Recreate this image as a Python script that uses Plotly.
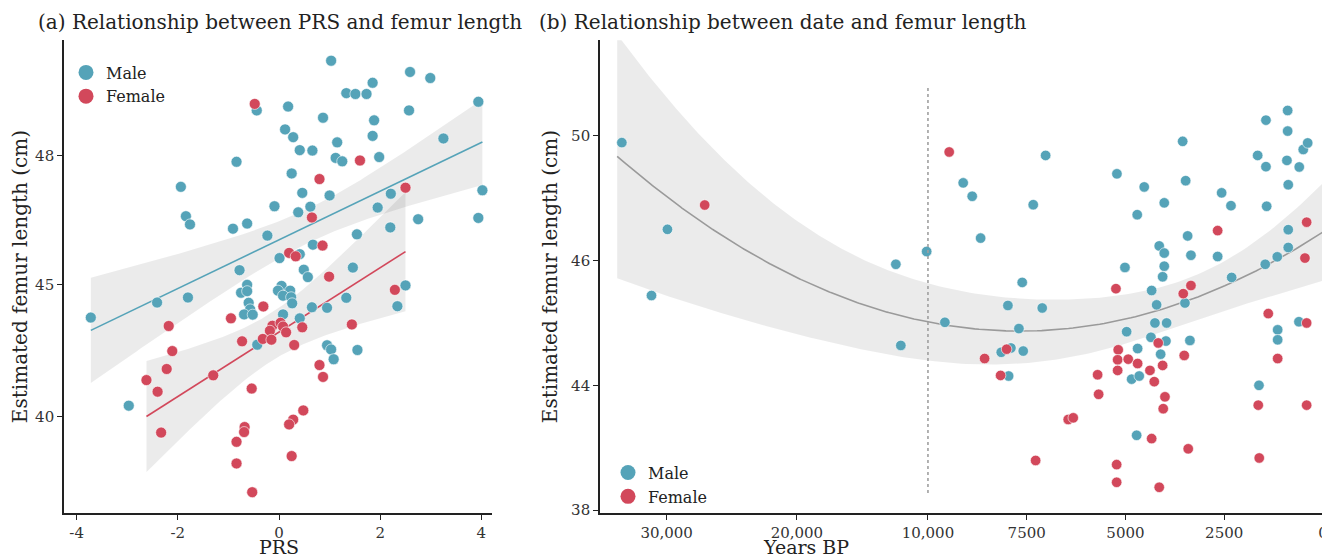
import numpy as np
import plotly.graph_objects as go

# ---------------- Panel (a): PRS vs estimated femur length ----------------
prs_male = [1.03, 2.59, 2.99, 1.85, 1.33, 1.51, 1.73, 3.94, -0.44, 0.18, 2.57, 0.87, 1.88, 0.12,
            0.28, 1.85, 3.25, 1.15, 0.41, 0.66, 1.12, 1.25, 1.98, -0.84, 0.25, -1.94, 0.46, 1.00,
            2.21, 4.02, -0.09, 0.62, 0.38, 1.95, -1.84, -1.76, -0.91, -0.63, 2.20, 2.75, 3.94,
            -0.23, 1.54, 0.67, 0.01, 0.41, -0.78, 0.49, 0.57, 1.46, -1.80, -0.63, -0.75, -0.63,
            0.05, -0.02, 0.22, 0.08, 0.24, 0.26, -0.60, -0.57, -0.69, -0.52, 0.08, 0.41, 0.65,
            0.95, 1.33, 2.50, 2.34, -0.43, 0.95, 1.03, 1.08, 1.55, -3.72, -2.41, -2.97]
femur_male_a = [50.19, 49.93, 49.79, 49.68, 49.44, 49.42, 49.42, 49.24, 49.04, 49.13, 49.04, 48.87,
                48.81, 48.60, 48.42, 48.45, 48.39, 48.30, 48.12, 48.11, 47.94, 47.86, 47.96, 47.85,
                47.58, 47.27, 47.13, 47.07, 47.11, 47.19, 46.82, 46.81, 46.68, 46.79, 46.59, 46.40,
                46.30, 46.42, 46.33, 46.52, 46.55, 46.14, 46.17, 45.93, 45.62, 45.71, 45.34, 45.35,
                45.18, 45.40, 44.52, 45.00, 44.70, 44.76, 44.96, 44.78, 44.78, 44.59, 44.53, 44.30,
                44.32, 44.07, 43.88, 43.87, 43.88, 43.73, 44.15, 44.13, 44.51, 44.98, 44.19, 42.73,
                42.71, 42.55, 42.18, 42.53, 43.76, 44.33, 40.42]
prs_female = [-0.48, 1.60, 0.80, 2.50, 0.65, 0.86, 0.20, 0.33, 0.99, 2.29, -0.31, -0.95, -0.13, 0.03,
              -0.18, 0.08, 0.14, 0.46, 1.44, -0.73, -0.32, -0.15, 0.30, -1.30, -0.54, 0.80, 0.87,
              0.48, 0.28, 0.20, -2.18, -2.11, -2.62, -2.22, -2.40, -2.33, -0.84, -0.84, -0.68,
              -0.69, -0.53, 0.25]
femur_female_a = [49.19, 47.88, 47.45, 47.25, 46.56, 45.91, 45.74, 45.66, 45.19, 44.81, 44.18, 43.73,
                  43.45, 43.56, 43.26, 43.42, 43.20, 43.39, 43.50, 42.86, 42.95, 42.92, 42.72, 41.57,
                  41.07, 41.96, 41.51, 40.24, 39.89, 39.71, 43.44, 42.49, 41.39, 41.81, 40.95, 39.40,
                  39.05, 38.23, 39.61, 39.42, 37.14, 38.51]

# ---------------- Panel (b): date (years BP) vs estimated femur length ----------------
years_male = [33440, 29940, 31165, 12450, 12070, 10100, 9108, 8880, 8667, 7335, 7021, 5216, 4525,
              4702, 4018, 3552, 3476, 4145, 4018, 4018, 4059, 5013, 3426, 3342, 2565, 2329, 2666,
              2312, 1653, 1443, 1443, 1425, 894, 894, 912, 879, 879, 879, 1157, 1461, 499, 387, 600,
              7614, 4337, 4211, 3494, 9571, 7976, 7107, 7697, 4970, 4254, 3958, 4355, 3975, 3368,
              7900, 8145, 7588, 4692, 4109, 7958, 4844, 4651, 1620, 608, 1147, 1147, 4717]
femur_male_b = [49.78, 47.00, 45.44, 45.94, 44.64, 46.29, 48.49, 48.06, 46.72, 47.79, 49.37, 48.78,
                48.36, 47.47, 47.85, 49.82, 48.56, 46.47, 46.24, 45.91, 45.74, 45.89, 46.79, 46.17,
                48.17, 47.76, 46.13, 45.73, 49.37, 50.50, 49.01, 47.74, 50.81, 50.15, 49.21, 48.43,
                46.99, 46.42, 46.12, 45.94, 49.56, 49.77, 49.00, 45.65, 45.52, 45.29, 45.32, 45.01,
                45.28, 45.24, 44.91, 44.86, 45.00, 45.00, 44.77, 44.71, 44.72, 44.60, 44.53, 44.55,
                44.59, 44.50, 44.15, 44.10, 44.15, 44.00, 45.02, 44.89, 44.73, 41.60]
years_female = [27080, 9462, 2666, 413, 456, 5241, 3342, 3537, 1385, 413, 8009, 8566, 5183, 4170,
                5198, 4930, 4692, 4380, 4059, 3512, 1147, 8161, 5705, 5198, 4271, 5679, 4000, 4044,
                6449, 6322, 1638, 413, 4337, 3411, 7274, 5223, 1613, 5223, 4145]
femur_female_b = [47.78, 49.48, 46.96, 47.23, 46.08, 45.55, 45.60, 45.47, 45.15, 45.00, 44.58, 44.43,
                  44.57, 44.68, 44.41, 44.42, 44.35, 44.24, 44.32, 44.48, 44.43, 44.16, 44.17, 44.24,
                  44.06, 43.57, 43.45, 42.88, 42.36, 42.44, 43.05, 43.05, 41.44, 40.95, 40.39, 40.19,
                  40.51, 39.34, 39.10]

# ---------------- Axis tick labels (values) ----------------
xa_ticks = [-4, -2, 0, 2, 4]
ya_ticks = [40, 45, 48]
yb_ticks = [38, 44, 46, 50]
xb_ticks = [0, 2500, 5000, 7500, 10000, 20000, 30000]
xb_ticktext = ["0", "2500", "5000", "7500", "10,000", "20,000", "30,000"]
years_limits = (0, 33800)   # span of the smoother in panel (b)
cutoff_year = 10000         # dashed reference line
ci_z_a = None               # default 95% t-interval for panel (a)
ci_z_b = 2.5                # wider interval used for the smoother of panel (b)

# ---------------- Scale definitions (piece-wise axes of the original) ----------------
YA_POS = [0.0, 1.0, 1.982]
YB_POS = [0.0, 1.0, 2.0, 3.0]
XB_POS = [0, 1, 2, 3, 4, 5.327, 6.646]


def scale(values, ticks, pos):
    v = np.asarray(values, float)
    t = np.asarray(ticks, float)
    p = np.asarray(pos, float)
    out = np.interp(v, t, p)
    lo, hi = v < t[0], v > t[-1]
    out[lo] = p[0] + (v[lo] - t[0]) * (p[1] - p[0]) / (t[1] - t[0])
    out[hi] = p[-1] + (v[hi] - t[-1]) * (p[-1] - p[-2]) / (t[-1] - t[-2])
    return out


def poly_ci(x, y, grid, deg, z=None):
    x = np.asarray(x, float)
    y = np.asarray(y, float)
    X = np.vander(x, deg + 1)
    beta, *_ = np.linalg.lstsq(X, y, rcond=None)
    resid = y - X @ beta
    n, k = X.shape
    s2 = resid @ resid / (n - k)
    cov = s2 * np.linalg.inv(X.T @ X)
    G = np.vander(np.asarray(grid, float), deg + 1)
    fit = G @ beta
    se = np.sqrt(np.einsum("ij,jk,ik->i", G, cov, G))
    tval = z if z is not None else 1.96 + 2.4 / (n - k)
    return fit, fit - tval * se, fit + tval * se


BLUE = "#55A3B8"
RED = "#D2485B"
BAND = "rgba(0,0,0,0.08)"
FONT = "DejaVu Serif"
TXT = "#222222"

# page geometry: 8px body margin, slight vertical squeeze of the capture
OFF = 8
KY = 557 / 564
W, H = 1330 - OFF, 556


def px(xp):
    return (xp - OFF) / W


def py(yp):
    return 1 - (yp / KY - OFF) / H


fig = go.Figure()

# ---- Panel (a) ----
groups_a = [("Male", prs_male, femur_male_a, BLUE), ("Female", prs_female, femur_female_a, RED)]
fits_a = []
for name, xs, ys, col in groups_a:
    yd = scale(ys, ya_ticks, YA_POS)
    grid = np.linspace(min(xs), max(xs), 120)
    fits_a.append((grid, *poly_ci(xs, yd, grid, 1, ci_z_a), col))
for grid, fit, lo, hi, col in fits_a:
    fig.add_trace(go.Scatter(x=np.r_[grid, grid[::-1]], y=np.r_[hi, lo[::-1]], fill="toself",
                             fillcolor=BAND, line=dict(width=0), mode="lines", hoverinfo="skip",
                             showlegend=False, xaxis="x", yaxis="y"))
for grid, fit, lo, hi, col in fits_a:
    fig.add_trace(go.Scatter(x=grid, y=fit, mode="lines", line=dict(color=col, width=1.6),
                             showlegend=False, hoverinfo="skip", xaxis="x", yaxis="y"))
for name, xs, ys, col in groups_a:
    fig.add_trace(go.Scatter(x=xs, y=scale(ys, ya_ticks, YA_POS), mode="markers", name=name,
                             marker=dict(color=col, size=11, line=dict(color="white", width=0.6)),
                             showlegend=False, xaxis="x", yaxis="y"))
    fig.add_trace(go.Scatter(x=[None], y=[None], mode="markers", name=name,
                             marker=dict(color=col, size=15), legend="legend",
                             xaxis="x", yaxis="y"))

# ---- Panel (b) ----
xb_all = scale(years_male + years_female, xb_ticks, XB_POS)
yb_all = scale(femur_male_b + femur_female_b, yb_ticks, YB_POS)
gridb = scale(np.linspace(*years_limits, 300), xb_ticks, XB_POS)
fitb, lob, hib = poly_ci(xb_all, yb_all, gridb, 2, ci_z_b)
fig.add_trace(go.Scatter(x=np.r_[gridb, gridb[::-1]], y=np.r_[hib, lob[::-1]], fill="toself",
                         fillcolor=BAND, line=dict(width=0), mode="lines", hoverinfo="skip",
                         showlegend=False, xaxis="x2", yaxis="y2"))
fig.add_trace(go.Scatter(x=gridb, y=fitb, mode="lines", line=dict(color="#9a9a9a", width=1.6),
                         showlegend=False, hoverinfo="skip", xaxis="x2", yaxis="y2"))
cut = float(scale([cutoff_year], xb_ticks, XB_POS)[0])
fig.add_shape(type="line", xref="x2", yref="y2 domain", x0=cut, x1=cut, y0=0.042, y1=0.90,
              line=dict(color="#a0a0a0", width=1.6, dash="3px,3px"))
groups_b = [("Male", years_male, femur_male_b, BLUE), ("Female", years_female, femur_female_b, RED)]
for name, xs, ys, col in groups_b:
    fig.add_trace(go.Scatter(x=scale(xs, xb_ticks, XB_POS), y=scale(ys, yb_ticks, YB_POS),
                             mode="markers", name=name,
                             marker=dict(color=col, size=10.5, line=dict(color="white", width=0.6)),
                             showlegend=False, xaxis="x2", yaxis="y2"))
    fig.add_trace(go.Scatter(x=[None], y=[None], mode="markers", name=name,
                             marker=dict(color=col, size=15), legend="legend2",
                             xaxis="x2", yaxis="y2"))

axis_common = dict(showline=True, linecolor="#222222", linewidth=1.6, ticks="outside",
                   ticklen=5, tickwidth=1.4, tickcolor="#222222", showgrid=False, zeroline=False,
                   tickfont=dict(family=FONT, size=15, color="#333333"))
ylabel = "Estimated femur length (cm)"
title_font = dict(family=FONT, size=20, color=TXT)

fig.update_layout(
    width=W, height=H, plot_bgcolor="white", paper_bgcolor="white",
    margin=dict(l=0, r=0, t=0, b=0),
    font=dict(family=FONT, color=TXT),
    xaxis=dict(domain=[px(64), px(492)], range=[-4.25, 4.21], tickvals=xa_ticks,
               ticktext=[str(v) for v in xa_ticks], anchor="y", **axis_common),
    yaxis=dict(domain=[py(512), py(40)], range=[-0.729, 2.855],
               tickvals=list(scale(ya_ticks, ya_ticks, YA_POS)), ticktext=[str(v) for v in ya_ticks],
               anchor="x", title=dict(text=ylabel, font=title_font, standoff=8), **axis_common),
    xaxis2=dict(domain=[px(600), px(1328)], range=[7.321, -0.051],
                tickvals=list(scale(xb_ticks, xb_ticks, XB_POS)), ticktext=xb_ticktext, anchor="y2",
                **axis_common),
    yaxis2=dict(domain=[py(512), py(40)], range=[-0.022, 3.766],
                tickvals=list(scale(yb_ticks, yb_ticks, YB_POS)), ticktext=[str(v) for v in yb_ticks],
                anchor="x2", title=dict(text=ylabel, font=title_font, standoff=8), **axis_common),
    legend=dict(x=px(66), y=py(55.3), xanchor="left", yanchor="top", bgcolor="rgba(0,0,0,0)",
                font=dict(family=FONT, size=16, color=TXT), tracegroupgap=0),
    legend2=dict(x=px(608), y=py(454.8), xanchor="left", yanchor="top", bgcolor="rgba(0,0,0,0)",
                 font=dict(family=FONT, size=16, color=TXT), tracegroupgap=0),
    annotations=[
        dict(text="(a) Relationship between PRS and femur length", xref="paper", yref="paper",
             x=px(36), y=py(22), xanchor="left", yanchor="middle", showarrow=False,
             font=dict(family=FONT, size=20, color=TXT)),
        dict(text="(b) Relationship between date and femur length", xref="paper", yref="paper",
             x=px(537), y=py(22), xanchor="left", yanchor="middle", showarrow=False,
             font=dict(family=FONT, size=20, color=TXT)),
        dict(text="PRS", xref="paper", yref="paper", x=px(279), y=py(546), xanchor="center",
             yanchor="middle", showarrow=False, font=dict(family=FONT, size=19, color=TXT)),
        dict(text="Years BP", xref="paper", yref="paper", x=px(806), y=py(546), xanchor="center",
             yanchor="middle", showarrow=False, font=dict(family=FONT, size=19, color=TXT)),
    ],
)

fig.write_html("out.html")
